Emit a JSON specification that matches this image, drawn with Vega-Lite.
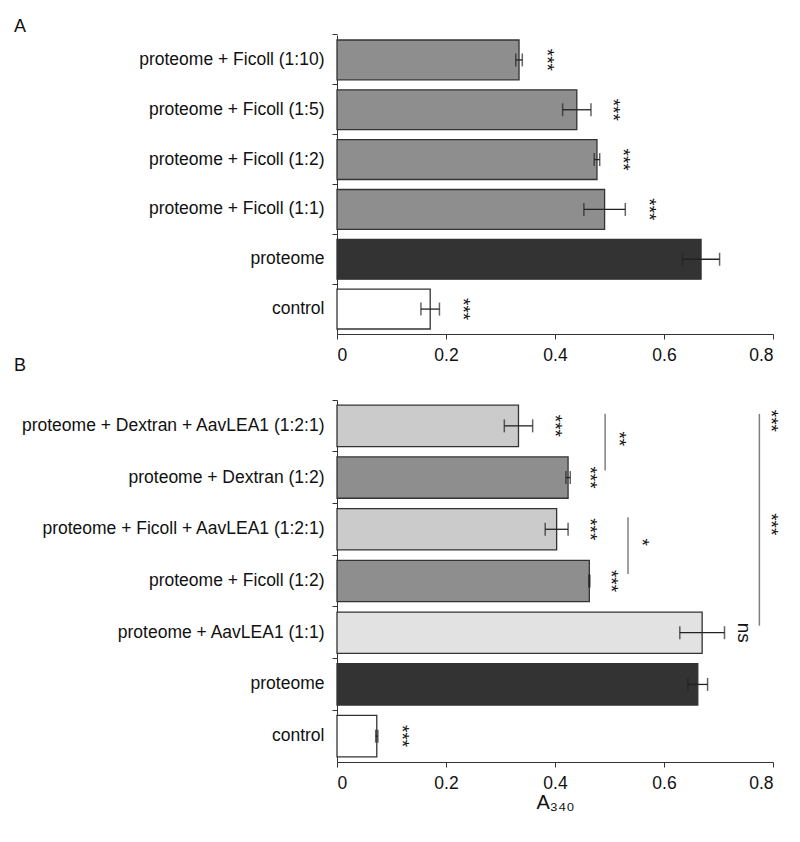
{
  "$schema": "https://vega.github.io/schema/vega-lite/v6.json",
  "padding": {"left": 14, "top": 17, "right": 8, "bottom": 0},
  "background": "white",
  "config": {
    "view": {"stroke": null},
    "font": "Liberation Sans",
    "axis": {"labelFont": "Liberation Sans", "labelFontSize": 17.5, "labelColor": "#111", "domainColor": "#333", "tickColor": "#333", "tickSize": 5, "grid": false, "titleFont": "Liberation Sans", "titleColor": "#111"},
    "title": {"font": "Liberation Sans", "fontSize": 18, "fontWeight": "normal", "color": "#111", "anchor": "start", "frame": "group"}
  },
  "datasets": {
    "panelA": [
      {"label": "proteome + Ficoll (1:10)", "mean": 0.334, "err": 0.006, "kind": "crowder", "sig": "***", "sigx": 0.385},
      {"label": "proteome + Ficoll (1:5)", "mean": 0.440, "err": 0.026, "kind": "crowder", "sig": "***", "sigx": 0.506},
      {"label": "proteome + Ficoll (1:2)", "mean": 0.477, "err": 0.005, "kind": "crowder", "sig": "***", "sigx": 0.524},
      {"label": "proteome + Ficoll (1:1)", "mean": 0.491, "err": 0.038, "kind": "crowder", "sig": "***", "sigx": 0.573},
      {"label": "proteome", "mean": 0.668, "err": 0.034, "kind": "proteome"},
      {"label": "control", "mean": 0.171, "err": 0.017, "kind": "control", "sig": "***", "sigx": 0.232}
    ],
    "panelB": [
      {"label": "proteome + Dextran + AavLEA1 (1:2:1)", "mean": 0.333, "err": 0.026, "kind": "crowder + AavLEA1", "sig": "***", "sigx": 0.400},
      {"label": "proteome + Dextran (1:2)", "mean": 0.424, "err": 0.004, "kind": "crowder", "sig": "***", "sigx": 0.464},
      {"label": "proteome + Ficoll + AavLEA1 (1:2:1)", "mean": 0.403, "err": 0.021, "kind": "crowder + AavLEA1", "sig": "***", "sigx": 0.464},
      {"label": "proteome + Ficoll (1:2)", "mean": 0.463, "err": 0.001, "kind": "crowder", "sig": "***", "sigx": 0.503},
      {"label": "proteome + AavLEA1 (1:1)", "mean": 0.670, "err": 0.041, "kind": "AavLEA1", "sig": "ns", "sigx": 0.746},
      {"label": "proteome", "mean": 0.662, "err": 0.018, "kind": "proteome"},
      {"label": "control", "mean": 0.073, "err": 0.002, "kind": "control", "sig": "***", "sigx": 0.120}
    ],
    "brackets": [
      {"from": "proteome + Dextran + AavLEA1 (1:2:1)", "to": "proteome + Dextran (1:2)", "x": 0.492},
      {"from": "proteome + Ficoll + AavLEA1 (1:2:1)", "to": "proteome + Ficoll (1:2)", "x": 0.534},
      {"from": "proteome + Dextran + AavLEA1 (1:2:1)", "to": "proteome + AavLEA1 (1:1)", "x": 0.775}
    ],
    "bracketLabels": [
      {"at": "proteome + Dextran + AavLEA1 (1:2:1)", "sig": "**", "sigx": 0.517, "span": "short"},
      {"at": "proteome + Ficoll + AavLEA1 (1:2:1)", "sig": "*", "sigx": 0.559, "span": "short"},
      {"at": "proteome + Dextran + AavLEA1 (1:2:1)", "sig": "***", "sigx": 0.796, "span": "long"},
      {"at": "proteome + Ficoll + AavLEA1 (1:2:1)", "sig": "***", "sigx": 0.796, "span": "long"}
    ]
  },
  "spacing": -8,
  "vconcat": [
    {
      "title": {"text": "A", "dx": -323, "offset": -2},
      "width": 436,
      "height": 299,
      "data": {"name": "panelA"},
      "encoding": {
        "y": {"field": "label", "type": "nominal", "sort": null,
          "scale": {"paddingInner": 0.2, "paddingOuter": 0.1},
          "axis": {"title": null, "bandPosition": -0.125, "labelPadding": 8, "labelLimit": 400}}
      },
      "layer": [
        {
          "mark": {"type": "bar", "stroke": "#333", "strokeWidth": 1.3},
          "encoding": {
            "x": {"field": "mean", "type": "quantitative", "scale": {"domain": [0, 0.8], "nice": false},
              "axis": {"title": null, "values": [0, 0.2, 0.4, 0.6, 0.8], "format": "~g", "labelPadding": 7}},
            "color": {"field": "kind", "type": "nominal", "legend": null,
              "scale": {"domain": ["crowder", "crowder + AavLEA1", "AavLEA1", "proteome", "control"], "range": ["#8e8e8e", "#cbcbcb", "#e2e2e2", "#333333", "#ffffff"]}}
          }
        },
        {
          "mark": {"type": "errorbar", "ticks": {"size": 13, "thickness": 1.5, "color": "#222"}, "rule": {"color": "#222", "strokeWidth": 1.3}},
          "encoding": {
            "x": {"field": "mean", "type": "quantitative", "title": null},
            "xError": {"field": "err"}
          }
        },
        {
          "mark": {"type": "text", "angle": 90, "fontSize": 19, "align": "center", "baseline": "middle", "color": "#111"},
          "encoding": {
            "x": {"field": "sigx", "type": "quantitative"},
            "text": {"field": "sig"}
          }
        }
      ]
    },
    {
      "title": {"text": "B", "dx": -323, "offset": 25},
      "width": 436,
      "height": 362,
      "encoding": {
        "y": {"field": "label", "type": "nominal",
          "scale": {"domain": ["proteome + Dextran + AavLEA1 (1:2:1)", "proteome + Dextran (1:2)", "proteome + Ficoll + AavLEA1 (1:2:1)", "proteome + Ficoll (1:2)", "proteome + AavLEA1 (1:1)", "proteome", "control"], "paddingInner": 0.2, "paddingOuter": 0.1},
          "axis": {"title": null, "bandPosition": -0.125, "labelPadding": 8, "labelLimit": 400}}
      },
      "layer": [
        {
          "data": {"name": "panelB"},
          "mark": {"type": "bar", "stroke": "#333", "strokeWidth": 1.3},
          "encoding": {
            "x": {"field": "mean", "type": "quantitative", "scale": {"domain": [0, 0.8], "nice": false},
              "title": "A₃₄₀",
              "axis": {"values": [0, 0.2, 0.4, 0.6, 0.8], "format": "~g", "labelPadding": 7, "titleFontSize": 20, "titleFontWeight": "normal", "titlePadding": 1}},
            "color": {"field": "kind", "type": "nominal", "legend": null,
              "scale": {"domain": ["crowder", "crowder + AavLEA1", "AavLEA1", "proteome", "control"], "range": ["#8e8e8e", "#cbcbcb", "#e2e2e2", "#333333", "#ffffff"]}}
          }
        },
        {
          "data": {"name": "panelB"},
          "mark": {"type": "errorbar", "ticks": {"size": 13, "thickness": 1.5, "color": "#222"}, "rule": {"color": "#222", "strokeWidth": 1.3}},
          "encoding": {
            "x": {"field": "mean", "type": "quantitative", "title": "A₃₄₀"},
            "xError": {"field": "err"}
          }
        },
        {
          "data": {"name": "panelB"},
          "mark": {"type": "text", "angle": 90, "fontSize": 19, "align": "center", "baseline": "middle", "color": "#111"},
          "encoding": {
            "x": {"field": "sigx", "type": "quantitative", "title": "A₃₄₀"},
            "text": {"field": "sig"}
          }
        },
        {
          "data": {"name": "brackets"},
          "mark": {"type": "rule", "color": "#808080", "strokeWidth": 1.5, "yOffset": -12, "y2Offset": -7},
          "encoding": {
            "x": {"field": "x", "type": "quantitative", "title": "A₃₄₀"},
            "y": {"field": "from", "type": "nominal"},
            "y2": {"field": "to"}
          }
        },
        {
          "data": {"name": "bracketLabels"},
          "transform": [{"filter": "datum.span == 'short'"}],
          "mark": {"type": "text", "angle": 90, "fontSize": 19, "align": "center", "baseline": "middle", "color": "#111", "yOffset": 13},
          "encoding": {
            "x": {"field": "sigx", "type": "quantitative", "title": "A₃₄₀"},
            "y": {"field": "at", "type": "nominal"},
            "text": {"field": "sig"}
          }
        },
        {
          "data": {"name": "bracketLabels"},
          "transform": [{"filter": "datum.span == 'long'"}],
          "mark": {"type": "text", "angle": 90, "fontSize": 19, "align": "center", "baseline": "middle", "color": "#111", "yOffset": -5},
          "encoding": {
            "x": {"field": "sigx", "type": "quantitative", "title": "A₃₄₀"},
            "y": {"field": "at", "type": "nominal"},
            "text": {"field": "sig"}
          }
        }
      ]
    }
  ]
}
